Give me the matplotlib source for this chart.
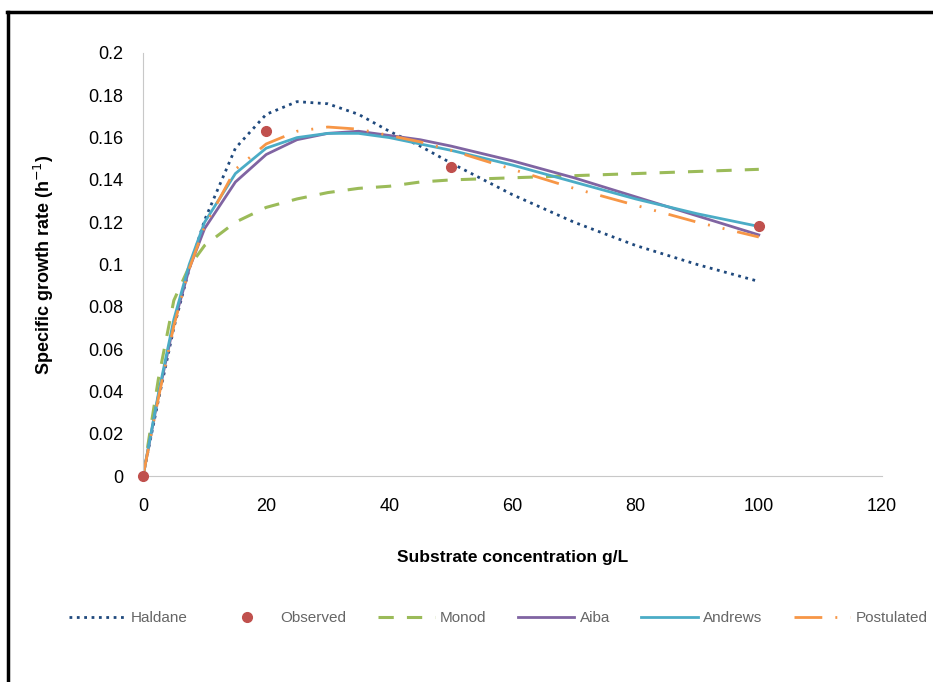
import matplotlib
matplotlib.use("Agg")
import matplotlib.pyplot as plt
from matplotlib.lines import Line2D

plt.rcParams["font.family"] = ["Liberation Sans", "DejaVu Sans"]

# substrate concentration (g/L) for the model curves
substrate = [0, 2.5, 5, 7.5, 10, 15, 20, 25, 30, 35, 40, 45, 50, 60, 70, 80, 90, 100]

haldane = [0, 0.036, 0.070, 0.098, 0.121, 0.155, 0.171, 0.177, 0.176, 0.171, 0.163,
           0.156, 0.148, 0.133, 0.120, 0.109, 0.100, 0.092]
monod = [0, 0.046, 0.083, 0.099, 0.109, 0.120, 0.127, 0.131, 0.134, 0.136, 0.137,
         0.139, 0.140, 0.141, 0.142, 0.143, 0.144, 0.145]
aiba = [0, 0.038, 0.072, 0.098, 0.117, 0.139, 0.152, 0.159, 0.162, 0.163, 0.161,
        0.159, 0.156, 0.149, 0.141, 0.132, 0.123, 0.114]
andrews = [0, 0.039, 0.074, 0.100, 0.120, 0.143, 0.155, 0.160, 0.162, 0.162, 0.160,
           0.157, 0.154, 0.147, 0.139, 0.131, 0.124, 0.118]
postulated = [0, 0.037, 0.071, 0.098, 0.118, 0.145, 0.157, 0.163, 0.165, 0.164, 0.161,
              0.158, 0.154, 0.145, 0.136, 0.128, 0.120, 0.113]

obs_x = [0, 20, 50, 100]
obs_y = [0, 0.163, 0.146, 0.118]

x_ticks = [0, 20, 40, 60, 80, 100, 120]
y_ticks = [0, 0.02, 0.04, 0.06, 0.08, 0.1, 0.12, 0.14, 0.16, 0.18, 0.2]
y_labels = ["0", "0.02", "0.04", "0.06", "0.08", "0.1", "0.12", "0.14", "0.16", "0.18", "0.2"]

fig = plt.figure(figsize=(9.33, 6.82), dpi=100)
ax = fig.add_axes([0.1533, 0.302, 0.792, 0.6203])

ax.plot(substrate, haldane, linestyle=(0, (1, 1.65)), color="#1F497D", linewidth=2.0,
        label="Haldane")
ax.plot(obs_x, obs_y, linestyle="none", marker="o", markersize=7, color="#C0504D",
        label="Observed", zorder=5, clip_on=False)
ax.plot(substrate, monod, linestyle=(0, (5, 4.3)), color="#9BBB59", linewidth=2.2,
        label="Monod")
ax.plot(substrate, aiba, color="#8064A2", linewidth=2.0, label="Aiba")
ax.plot(substrate, andrews, color="#4BACC6", linewidth=2.0, label="Andrews")
ax.plot(substrate, postulated, linestyle=(0, (10, 4.7, 0.7, 4.7, 0.7, 4.7)),
        color="#F79646", linewidth=2.0, label="Postulated")

ax.set_xlim(0, 120)
ax.set_ylim(0, 0.2)
ax.set_xticks(x_ticks)
ax.set_xticklabels([str(t) for t in x_ticks])
ax.set_yticks(y_ticks)
ax.set_yticklabels(y_labels)
ax.tick_params(length=0, labelsize=13, colors="black")
ax.tick_params(axis="y", pad=14)
ax.tick_params(axis="x", pad=16)

for side in ["top", "right"]:
    ax.spines[side].set_visible(False)
ax.spines["bottom"].set_color("#C8C8C8")
ax.spines["bottom"].set_linewidth(0.8)
ax.spines["left"].set_color("#C8C8C8")
ax.spines["left"].set_linewidth(0.8)
ax.spines["left"].set_linestyle((0, (1, 1)))

ax.set_xlabel("Substrate concentration g/L", fontsize=12.5, fontweight="bold", labelpad=25)
ax.set_ylabel("Specific growth rate (h$^{-1}$)", fontsize=13, fontweight="bold", labelpad=23)

leg = fig.legend(loc="center", bbox_to_anchor=(0.534, 0.094), ncol=6, frameon=False,
                 fontsize=11, handlelength=3.7, columnspacing=2.05, handletextpad=0.35)
for text in leg.get_texts():
    text.set_color("#666666")

# black frame lines on the left and top edges
fig.add_artist(Line2D([0.0086, 0.0086], [0.0, 0.983], color="black", linewidth=2.5,
                      transform=fig.transFigure))
fig.add_artist(Line2D([0.0075, 1.0], [0.983, 0.983], color="black", linewidth=2.5,
                      transform=fig.transFigure))

fig.savefig("out.png", dpi=100)
plt.close(fig)
